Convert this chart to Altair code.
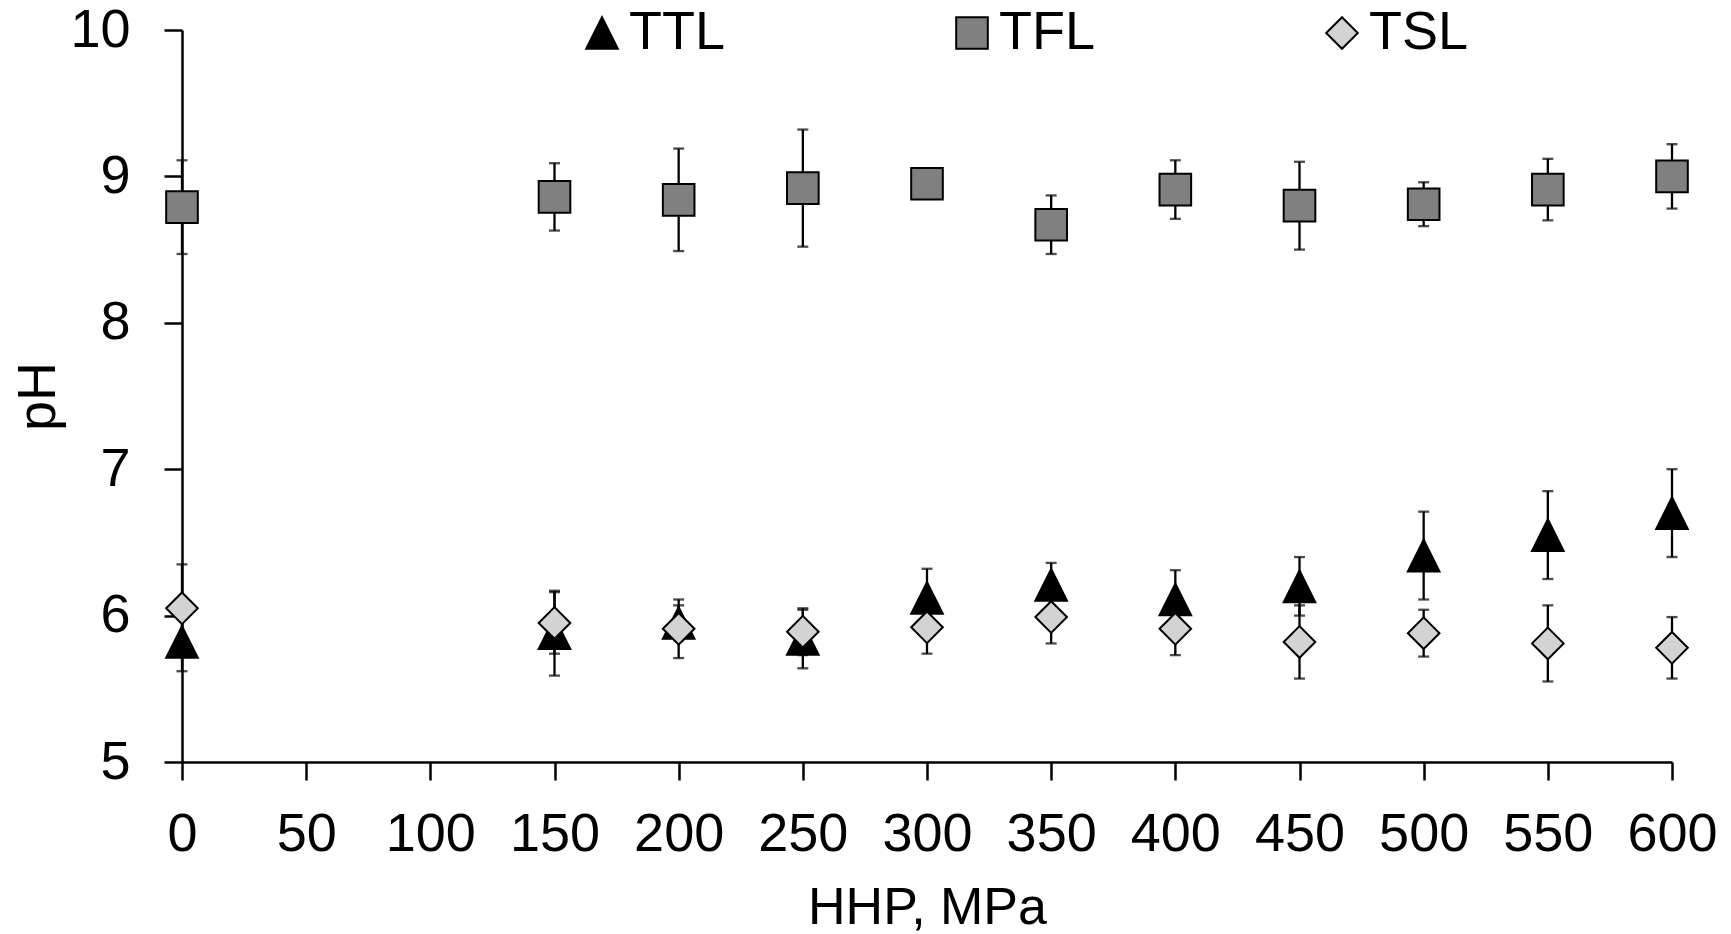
import altair as alt
import pandas as pd

# HHP pressure levels (MPa)
hhp = [0, 150, 200, 250, 300, 350, 400, 450, 500, 550, 600]

# series values (pH) and error-bar half widths
ttl = [5.82, 5.88, 5.95, 5.84, 6.12, 6.21, 6.11, 6.20, 6.41, 6.55, 6.70]
ttl_err = [0.20, 0.29, 0.12, 0.20, 0.20, 0.15, 0.20, 0.20, 0.30, 0.30, 0.30]

tfl = [8.79, 8.86, 8.84, 8.92, 8.95, 8.67, 8.91, 8.80, 8.81, 8.91, 9.00]
tfl_err = [0.32, 0.23, 0.35, 0.40, 0.05, 0.20, 0.20, 0.30, 0.15, 0.21, 0.22]

tsl = [6.05, 5.95, 5.91, 5.89, 5.92, 5.99, 5.91, 5.82, 5.88, 5.81, 5.78]
tsl_err = [0.30, 0.21, 0.20, 0.16, 0.18, 0.18, 0.18, 0.25, 0.16, 0.26, 0.21]

series_names = ["TTL", "TFL", "TSL"]
x_ticks = [0, 50, 100, 150, 200, 250, 300, 350, 400, 450, 500, 550, 600]
y_ticks = [5, 6, 7, 8, 9, 10]

rows = []
for name, vals, errs in [("TTL", ttl, ttl_err), ("TFL", tfl, tfl_err), ("TSL", tsl, tsl_err)]:
    for x, v, e in zip(hhp, vals, errs):
        rows.append({"series": name, "hhp": x, "ph": v, "err": e})
df = pd.DataFrame(rows)

FONT = "Liberation Sans"
FS = 54

x_enc = alt.X(
    "hhp:Q",
    scale=alt.Scale(domain=[0, 600], nice=False, zero=False),
    axis=alt.Axis(
        values=x_ticks, format="d", title="HHP, MPa", labelPadding=27,
        titleY=161, titleBaseline="alphabetic", titleFontSize=52,
    ),
)
y_scale = alt.Scale(domain=[5, 10], nice=False, zero=False)

base = alt.Chart(df).transform_calculate(
    lo="datum.ph - datum.err", hi="datum.ph + datum.err"
)

rules = base.mark_rule(color="black", strokeWidth=2.3).encode(
    x=x_enc,
    y=alt.Y("lo:Q", scale=y_scale,
            axis=alt.Axis(values=y_ticks, format="d", title="pH", labelPadding=34,
                          titleAngle=270, titleBaseline="alphabetic",
                          titleX=-128, titleY=366, titleAlign="center")),
    y2="hi:Q",
)
caps_lo = base.mark_tick(color="black", orient="horizontal", size=11, thickness=2.3).encode(
    x=alt.X("hhp:Q"), y=alt.Y("lo:Q")
)
caps_hi = base.mark_tick(color="black", orient="horizontal", size=11, thickness=2.3).encode(
    x=alt.X("hhp:Q"), y=alt.Y("hi:Q")
)

legend = alt.Legend(
    title=None, orient="none", direction="horizontal",
    legendX=393, legendY=-24, columnPadding=216, gridAlign="all",
    labelFont=FONT, labelFontSize=FS, labelColor="black", labelOffset=0,
    symbolSize=1000, symbolStrokeWidth=2, padding=0, labelLimit=0,
)

tri = "M0,-1L1,1L-1,1Z"
points = alt.Chart(df).mark_point(filled=True, size=1000, strokeWidth=2, opacity=1).encode(
    x=alt.X("hhp:Q"),
    y=alt.Y("ph:Q"),
    shape=alt.Shape("series:N", scale=alt.Scale(domain=series_names, range=[tri, "square", "diamond"]), legend=legend),
    fill=alt.Fill("series:N", scale=alt.Scale(domain=series_names, range=["#000000", "#808080", "#d3d3d3"]), legend=legend),
    stroke=alt.Stroke("series:N", scale=alt.Scale(domain=series_names, range=["#000000", "#000000", "#000000"]), legend=legend),
)

chart = alt.layer(rules, caps_lo, caps_hi, points).properties(
    width=1490, height=732,
    autosize=alt.AutoSizeParams(type="none"),
    padding={"left": 182, "top": 30, "right": 59, "bottom": 172},
    background="white",
).configure_view(stroke=None).configure_axis(
    grid=False, domainColor="black", domainWidth=2.5, tickColor="black",
    tickWidth=2.5, tickSize=18, labelFont=FONT, labelFontSize=FS,
    labelColor="black", titleFont=FONT, titleFontSize=FS, titleFontWeight="normal",
    titleColor="black", labelFlush=False, labelOverlap=False,
)

chart.save("out.html", embed_options={"renderer": "svg", "actions": False})
